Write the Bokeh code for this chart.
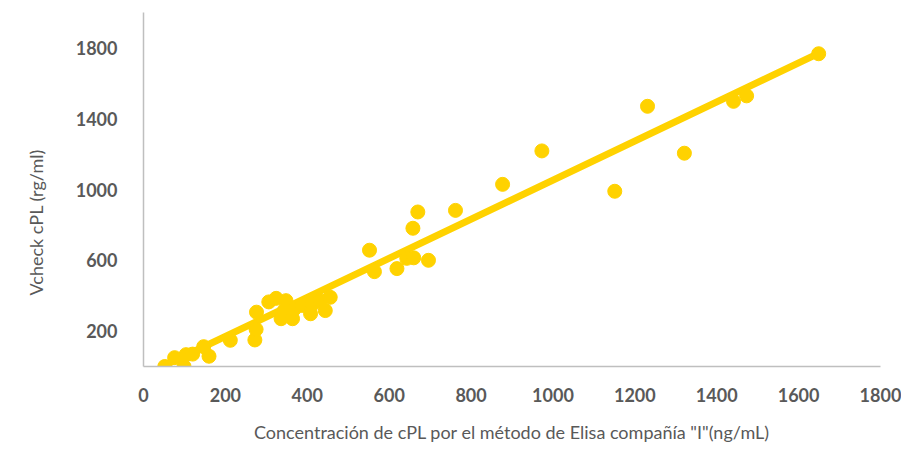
from bokeh.plotting import figure
from bokeh.models import Range1d, FixedTicker, Title
from bokeh.embed import file_html
from bokeh.resources import INLINE

# Data
elisa_x = [52, 76, 99, 104, 120, 147, 160, 212, 272, 275, 276, 306, 324, 336, 344,
           348, 364, 368, 388, 408, 412, 432, 444, 456, 552, 564, 619, 643, 658, 660,
           670, 696, 762, 877, 973, 1151, 1231, 1321, 1441, 1473, 1649]
vcheck_y = [0, 50, 0, 67, 70, 112, 58, 148, 150, 210, 307, 365, 385, 270, 316,
            372, 270, 325, 345, 298, 350, 372, 316, 391, 657, 536, 553, 611, 781, 614,
            873, 600, 882, 1029, 1218, 990, 1470, 1205, 1498, 1529, 1767]
trend_x = [55, 1650]
trend_y = [10, 1770]
x_ticks = [0, 200, 400, 600, 800, 1000, 1200, 1400, 1600, 1800]
y_ticks = [200, 600, 1000, 1400, 1800]
x_title = 'Concentración de cPL por el método de Elisa compañía "I"(ng/mL)'
y_title = "Vcheck cPL (rg/ml)"

GOLD = "#FFD200"
GRAY = "#595959"
FONT = "Lato"

p = figure(width=901, height=445, output_backend="svg", toolbar_location=None,
           x_range=Range1d(0, 1800), y_range=Range1d(0, 2000),
           min_border_left=142, min_border_right=21, min_border_top=12,
           min_border_bottom=77)
p.outline_line_color = None
p.xgrid.visible = False
p.ygrid.visible = False

p.line(trend_x, trend_y, line_width=7, color=GOLD, line_cap="round")
p.scatter(elisa_x, vcheck_y, size=14, color=GOLD)

for ax in (p.xaxis[0], p.yaxis[0]):
    ax.axis_line_color = "#BFBFBF"
    ax.axis_line_width = 1.5
    ax.major_tick_line_color = None
    ax.minor_tick_line_color = None
    ax.major_label_text_font = FONT
    ax.major_label_text_font_size = "18px"
    ax.major_label_text_font_style = "bold"
    ax.major_label_text_color = GRAY

p.xaxis.ticker = FixedTicker(ticks=x_ticks)
p.yaxis.ticker = FixedTicker(ticks=y_ticks)
p.xaxis.major_label_standoff = 15
p.yaxis.major_label_standoff = 20

p.xaxis.axis_label = x_title
p.xaxis.axis_label_text_font = FONT
p.xaxis.axis_label_text_font_size = "18px"
p.xaxis.axis_label_text_font_style = "normal"
p.xaxis.axis_label_text_color = GRAY
p.xaxis.axis_label_standoff = 16

p.add_layout(Title(text=y_title, align="left", offset=71, vertical_align="top",
                   text_font=FONT, text_font_size="18px", text_font_style="normal",
                   text_color=GRAY, standoff=48), "left")

open("out.html", "w").write(file_html(p, INLINE))
